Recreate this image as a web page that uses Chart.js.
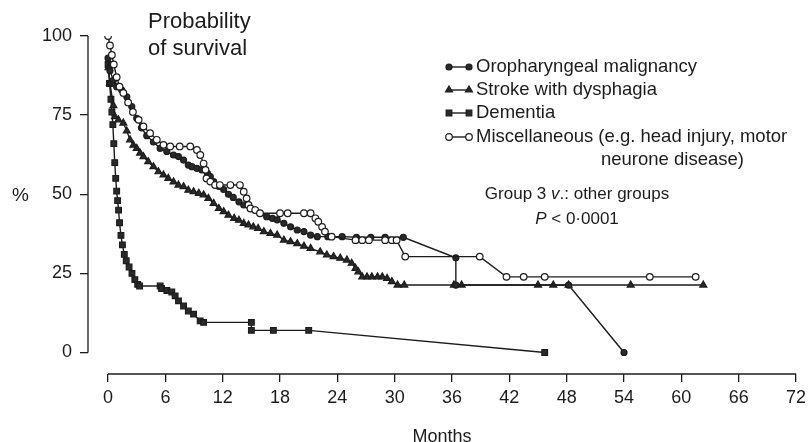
<!DOCTYPE html>
<html>
<head>
  <title>Probability of survival</title>
  <script src="https://cdn.jsdelivr.net/npm/chart.js"></script>
  <style>
    body { margin: 0; background: #fff; }
  </style>
</head>
<body>
  <canvas id="km-chart" width="811" height="442"></canvas>
  <script>
    // months and survival (%)
    const oroMonths = [0, 0.2, 0.56, 0.9, 1.43, 1.96, 2.48, 3.0, 3.5, 4.05, 4.75, 5.45, 6.15, 6.85, 7.37, 7.9, 8.4, 8.77, 9.3, 9.8, 10.4, 10.7, 11.05, 11.6, 12.1, 12.6, 13.1, 13.7, 14.2, 14.9, 15.4, 15.9, 16.6, 17.2, 17.7, 18.4, 19.1, 19.8, 20.5, 21.2, 21.9, 23.0, 24.5, 26.0, 27.5, 29.0, 30.9, 36.4, 36.4, 48.2, 54.0];
    const oroSurv   = [93, 89, 86, 84, 82.9, 80.8, 77.7, 74, 71, 68.5, 66.5, 64.5, 63.5, 62.4, 61.9, 60.8, 59.2, 58.7, 58.2, 57.7, 56.6, 55.6, 54, 52.5, 51.5, 50, 49, 47.6, 46.6, 45.5, 45, 44, 42.9, 42.4, 41.9, 40.8, 39.7, 38.7, 38.2, 37.1, 36.6, 36.6, 36.6, 36.4, 36.4, 36.4, 36.4, 29.9, 21.3, 21.3, 0];

    const strokeMonths = [0.05, 0.2, 0.56, 0.73, 1.08, 1.6, 1.96, 2.3, 2.65, 3.0, 3.35, 3.7, 4.2, 4.75, 5.27, 5.8, 6.3, 6.85, 7.37, 7.9, 8.4, 8.95, 9.5, 10.0, 10.5, 11.05, 11.6, 12.1, 12.6, 13.2, 13.7, 14.2, 14.7, 15.2, 15.7, 16.3, 17.0, 17.7, 18.4, 19.1, 19.8, 20.5, 21.2, 22.2, 22.9, 23.6, 24.3, 25.0, 25.5, 25.9, 26.2, 26.6, 27.1, 27.6, 28.2, 28.7, 29.2, 29.7, 30.3, 31.0, 36.2, 37.0, 45.0, 46.6, 48.2, 54.7, 62.3];
    const strokeSurv   = [90, 85, 78, 74.5, 73.5, 72.5, 70, 67.2, 65.5, 64.5, 63, 61.9, 60.3, 58.7, 57.1, 56.1, 55, 53.9, 52.9, 52.4, 51.3, 50.8, 50.3, 49.8, 48.7, 47.1, 45.5, 44.5, 43.4, 42.4, 41.8, 40.8, 40.3, 39.7, 39.2, 38.2, 37.6, 37.1, 35.5, 35, 34.4, 33.6, 32.9, 31.8, 30.8, 30.3, 29.8, 29.2, 28.2, 26.6, 25.5, 23.9, 23.9, 23.9, 23.9, 23.9, 23.4, 22.4, 21.3, 21.3, 21.3, 21.3, 21.3, 21.3, 21.3, 21.3, 21.3];

    const dementiaMonths = [0, 0.15, 0.3, 0.4, 0.5, 0.6, 0.7, 0.8, 0.9, 1.0, 1.1, 1.2, 1.35, 1.5, 1.7, 1.9, 2.2, 2.5, 2.8, 3.1, 3.3, 5.45, 5.6, 6.15, 6.67, 7.02, 7.37, 7.9, 8.4, 8.95, 9.64, 10.0, 15.0, 15.0, 17.3, 21.0, 45.7];
    const dementiaSurv   = [91, 85, 80, 76, 72, 66, 60, 55, 51, 48, 45, 41, 37, 34, 31, 29, 27, 25, 23, 21.5, 21, 21, 20.2, 19.6, 19.1, 17.9, 16.3, 14.7, 13.1, 12.1, 10, 9.5, 9.5, 7, 7, 7, 0];

    const miscMonths = [0, 0.2, 0.4, 0.6, 0.9, 1.2, 1.6, 2.1, 2.6, 3.2, 3.7, 4.4, 5.1, 5.8, 6.5, 7.5, 8.6, 9.3, 9.65, 10.0, 10.2, 10.3, 10.7, 11.2, 11.7, 12.8, 13.8, 14.2, 14.5, 14.7, 14.9, 15.4, 15.9, 18.0, 18.8, 20.5, 21.2, 21.7, 22.0, 22.4, 22.7, 23.4, 25.9, 26.6, 27.3, 29.0, 29.7, 30.2, 31.1, 38.9, 41.7, 43.5, 45.7, 56.7, 61.5];
    const miscSurv   = [100, 97, 94, 91, 87, 84, 82, 79, 76, 73.5, 71.4, 69.3, 67.2, 65.6, 65.1, 65.1, 65.1, 64, 62.4, 59.7, 57.7, 55, 54, 52.9, 52.9, 52.9, 52.9, 50.8, 48.7, 46.6, 45.5, 45, 44, 44, 44, 44, 44, 42.4, 41.3, 39.7, 38.2, 36.6, 35.5, 35.5, 35.5, 35.5, 35.5, 35.5, 30.3, 30.3, 23.9, 23.9, 23.9, 23.9, 23.9];

    const xTicks = [0, 6, 12, 18, 24, 30, 36, 42, 48, 54, 60, 66, 72];
    const yTicks = [0, 25, 50, 75, 100];

    const seriesNames = [
      'Oropharyngeal malignancy',
      'Stroke with dysphagia',
      'Dementia',
      'Miscellaneous (e.g. head injury, motor'
    ];

    const ink = '#1c1c1c';
    const fontFamily = "'Liberation Sans', Arial, Helvetica, sans-serif";

    function toPoints(months, surv) {
      return months.map((m, i) => ({ x: m, y: surv[i] }));
    }

    function series(label, months, surv, style, open, radius, order) {
      return {
        label: label,
        data: toPoints(months, surv),
        borderColor: ink,
        borderWidth: 1.4,
        pointStyle: style,
        pointRadius: radius,
        pointBorderWidth: 1.2,
        pointBorderColor: ink,
        pointBackgroundColor: open ? '#ffffff' : '#2a2a2a',
        tension: 0,
        fill: false,
        order: order
      };
    }

    // axis lines only span 0..max, detached from each other
    const axisLines = {
      id: 'axisLines',
      beforeDatasetsDraw(chart) {
        const { ctx, chartArea, scales } = chart;
        ctx.save();
        ctx.strokeStyle = ink;
        ctx.lineWidth = 1.3;
        ctx.beginPath();
        ctx.moveTo(chartArea.left, scales.y.getPixelForValue(0));
        ctx.lineTo(chartArea.left, scales.y.getPixelForValue(100));
        ctx.moveTo(scales.x.getPixelForValue(0), chartArea.bottom);
        ctx.lineTo(scales.x.getPixelForValue(72), chartArea.bottom);
        ctx.stroke();
        ctx.restore();
      }
    };

    function drawRuns(ctx, runs, x, y) {
      // runs: [text, italic], centred on x
      let total = 0;
      runs.forEach(r => {
        ctx.font = (r[1] ? 'italic ' : '') + '17px ' + fontFamily;
        total += ctx.measureText(r[0]).width;
      });
      let cx = x - total / 2;
      ctx.textAlign = 'left';
      runs.forEach(r => {
        ctx.font = (r[1] ? 'italic ' : '') + '17px ' + fontFamily;
        ctx.fillText(r[0], cx, y);
        cx += ctx.measureText(r[0]).width;
      });
    }

    const annotations = {
      id: 'annotations',
      afterDraw(chart) {
        const ctx = chart.ctx;
        ctx.save();
        ctx.fillStyle = ink;

        ctx.font = '22px ' + fontFamily;
        ctx.textAlign = 'left';
        ctx.textBaseline = 'alphabetic';
        ctx.fillText('Probability', 148, 28);
        ctx.fillText('of survival', 148, 55);

        ctx.font = '19px ' + fontFamily;
        ctx.textBaseline = 'middle';
        ctx.fillText('%', 12, 196);

        // legend: short line with a marker at each end
        const legendY = [67, 90, 113, 137];
        const legendOrder = [1, 2, 3, 0];
        legendOrder.forEach((dsIndex, i) => {
          const ds = chart.data.datasets[dsIndex];
          const y = legendY[i];
          ctx.strokeStyle = ink;
          ctx.lineWidth = 1.4;
          ctx.beginPath();
          ctx.moveTo(449, y);
          ctx.lineTo(469, y);
          ctx.stroke();
          [449, 469].forEach(px => {
            ctx.fillStyle = ds.pointBackgroundColor;
            ctx.strokeStyle = ink;
            ctx.lineWidth = 1.2;
            Chart.helpers.drawPoint(ctx, {
              pointStyle: ds.pointStyle,
              radius: ds.pointRadius,
              borderWidth: 1.2
            }, px, y);
          });
          ctx.fillStyle = ink;
          ctx.font = '18.5px ' + fontFamily;
          ctx.textAlign = 'left';
          ctx.fillText(ds.label, 476, y);
        });
        ctx.fillText('neurone disease)', 601, 160);

        ctx.fillStyle = ink;
        ctx.textBaseline = 'middle';
        drawRuns(ctx, [['Group 3 ', false], ['v', true], ['.: other groups', false]], 577, 194);
        drawRuns(ctx, [['P', true], [' < 0\u00B70001', false]], 577, 219);
        ctx.restore();
      }
    };

    const ctx = document.getElementById('km-chart').getContext('2d');

    const datasets = [
      series(seriesNames[3], miscMonths, miscSurv, 'circle', true, 3.3, 0),
      series(seriesNames[0], oroMonths, oroSurv, 'circle', false, 3, 1),
      series(seriesNames[1], strokeMonths, strokeSurv, 'triangle', false, 4, 2),
      series(seriesNames[2], dementiaMonths, dementiaSurv, 'rect', false, 4, 3)
    ];

    const tickFont = { family: fontFamily, size: 18 };

    const kmChart = new Chart(ctx, {
      type: 'line',
      data: { datasets: datasets },
      options: {
        responsive: false,
        animation: false,
        layout: { padding: { top: 36, right: 15, left: 0, bottom: 0 } },
        plugins: {
          legend: { display: false },
          tooltip: { enabled: false }
        },
        scales: {
          x: {
            type: 'linear',
            min: -2.1,
            max: 72,
            afterBuildTicks: s => { s.ticks = xTicks.map(v => ({ value: v })); },
            afterFit: s => { s.height = 68; },
            border: { display: false },
            grid: { drawOnChartArea: false, drawTicks: true, tickLength: 8, color: ink, lineWidth: 1.3 },
            ticks: { color: ink, font: tickFont, padding: 5, maxRotation: 0, autoSkip: false },
            title: { display: true, text: 'Months', color: ink, font: { family: fontFamily, size: 18, lineHeight: 0.6 }, padding: { top: 0, bottom: 0 } }
          },
          y: {
            type: 'linear',
            min: -6.8,
            max: 100,
            afterBuildTicks: s => { s.ticks = yTicks.map(v => ({ value: v })); },
            afterFit: s => { s.width = 88; },
            border: { display: false },
            grid: { drawOnChartArea: false, drawTicks: true, tickLength: 8, color: ink, lineWidth: 1.3 },
            ticks: { color: ink, font: tickFont, padding: 8 }
          }
        }
      },
      plugins: [axisLines, annotations]
    });
  </script>
</body>
</html>
